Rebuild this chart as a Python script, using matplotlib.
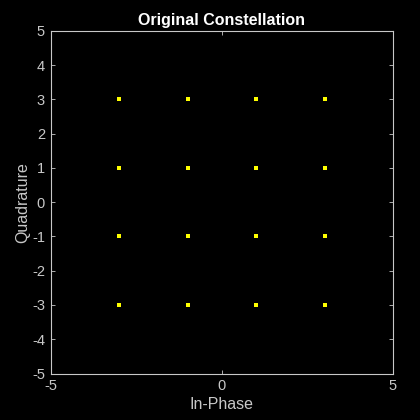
import numpy as np
import matplotlib.pyplot as plt

plt.rcParams["font.family"] = ["Liberation Sans", "DejaVu Sans"]
plt.rcParams["axes.unicode_minus"] = False

# 16-QAM reference points
i_vals = [-3, -1, 1, 3]
q_vals = [-3, -1, 1, 3]
x_ticks = [-5, 0, 5]
y_ticks = [-5, -4, -3, -2, -1, 0, 1, 2, 3, 4, 5]

I, Q = np.meshgrid(i_vals, q_vals)

fig = plt.figure(figsize=(4.2, 4.2), dpi=100, facecolor="black")
ax = fig.add_axes([50.5 / 420, 1 - 373.5 / 420, 342.5 / 420, 342.5 / 420])
ax.set_facecolor("black")

ax.plot(I.ravel(), Q.ravel(), linestyle="none", marker="s", markersize=2.2,
        color="#ffff00", markeredgewidth=0)

ax.set_xlim(-5, 5)
ax.set_ylim(-5, 5)
ax.set_xticks(x_ticks)
ax.set_yticks(y_ticks)

grey = "#c8c8c8"
for s in ax.spines.values():
    s.set_color(grey)
    s.set_linewidth(0.8)
ax.tick_params(direction="in", colors=grey, labelsize=10.5, length=3, width=0.6,
               top=True, right=True, pad=4)
ax.set_xlabel("In-Phase", color=grey, fontsize=11.5, labelpad=3)
ax.set_ylabel("Quadrature", color=grey, fontsize=11.5)
ax.yaxis.set_label_coords(-0.06, 0.5)
ax.set_title("Original Constellation", color="white", fontsize=11.5,
             fontweight="bold", pad=4)

fig.savefig("out.png", dpi=100, facecolor="black")
